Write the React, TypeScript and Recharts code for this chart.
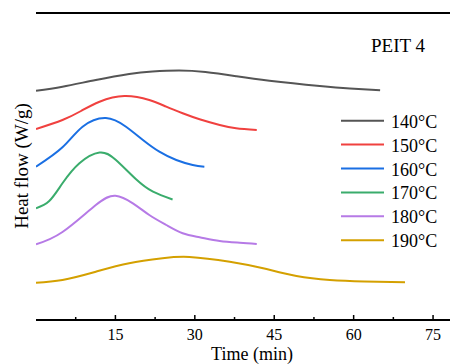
import { LineChart, Line, XAxis, YAxis, ReferenceLine, Customized } from "recharts";

// time (min) and offset heat flow (arbitrary units, curves stacked)
const t140 = [0, 5, 11.3, 17.6, 22, 27, 32, 37.8, 44.1, 53.6, 59.3, 65];
const v140 = [229.3, 233.3, 240, 246, 248.5, 249.5, 248, 243.8, 239.3, 234, 231.5, 229.7];

const t150 = [0, 5, 8.5, 12, 16.7, 21.4, 24.6, 27.7, 30.9, 34.7, 37.8, 41.7];
const v150 = [191, 200, 209, 218.3, 224, 220, 213.3, 206.7, 200.7, 195, 191.7, 190];

const t160 = [0, 5, 8.8, 13.2, 17, 20.2, 23.3, 26.5, 29.6, 31.8];
const v160 = [153.3, 172.7, 193.3, 202, 193.3, 180, 168.3, 160, 155, 153.3];

const t170 = [0, 2.5, 5, 8.2, 12, 15.1, 18.9, 22.1, 25.8];
const v170 = [111.7, 119, 136.7, 156.7, 167.5, 160, 140.7, 128.3, 120.5];

const t180 = [0, 5, 11.3, 15, 18.3, 21.4, 24.6, 27.7, 30.9, 34.7, 38.5, 41.7];
const v180 = [75.7, 88, 115, 124.3, 116.7, 105, 95, 86.7, 82.7, 79, 77.3, 76];

const t190 = [0, 5, 11.3, 17.6, 23.9, 29, 36.6, 42.9, 49.2, 55.5, 62, 69.7];
const v190 = [37.3, 40, 48.3, 56.7, 61.7, 63, 58.3, 51.7, 44, 40, 38.5, 37.7];

const labels = ["140°C", "150°C", "160°C", "170°C", "180°C", "190°C"];
const colors = ["#555555", "#f0413f", "#1a6fe3", "#3aac6c", "#b67ae6", "#d4a000"];
const times = [t140, t150, t160, t170, t180, t190];
const values = [v140, v150, v160, v170, v180, v190];

const xTicks = [7.5, 15, 22.5, 30, 37.5, 45, 52.5, 60, 67.5, 75];

const font = "'Liberation Serif', 'Times New Roman', serif";

const series = labels.map((name, i) => ({
  name,
  color: colors[i],
  data: times[i].map((t, j) => ({ t, v: values[i][j] })),
}));

function TimeTick(props: any) {
  const { x, y, payload } = props;
  const major = payload.value % 15 === 0;
  return (
    <g>
      <line x1={x} y1={y} x2={x} y2={y - (major ? 5 : 3)} stroke="#000" strokeWidth={1.5} />
      {major && (
        <text x={x} y={y + 20} textAnchor="middle" fontFamily={font} fontSize={16} fill="#000">
          {payload.value}
        </text>
      )}
    </g>
  );
}

function Decor() {
  return (
    <g fontFamily={font} fill="#000">
      <text x={21} y={166} transform="rotate(-90, 21, 166)" textAnchor="middle" dominantBaseline="central" fontSize={19}>
        Heat flow (W/g)
      </text>
      <text x={252} y={360} textAnchor="middle" fontSize={18}>
        Time (min)
      </text>
      <text x={371} y={52} fontSize={19}>
        PEIT 4
      </text>
      {series.map((s, i) => {
        const y = 120.7 + i * 23.9;
        return (
          <g key={s.name}>
            <line x1={341} x2={384} y1={y} y2={y} stroke={s.color} strokeWidth={2} />
            <text x={391} y={y + 7} fontSize={18}>
              {s.name}
            </text>
          </g>
        );
      })}
    </g>
  );
}

export default function App() {
  return (
    <div style={{ width: 450, height: 364, background: "#fff" }}>
      <style>{`body{margin:0}`}</style>
      <LineChart width={450} height={364} margin={{ top: 13, right: 0, bottom: 0, left: 36 }}>
        <XAxis
          dataKey="t"
          type="number"
          domain={[0, 78.2]}
          ticks={xTicks}
          interval={0}
          allowDataOverflow
          height={44}
          tickSize={0}
          tickMargin={0}
          tickLine={false}
          axisLine={{ stroke: "#000", strokeWidth: 2 }}
          tick={<TimeTick />}
        />
        <YAxis
          type="number"
          domain={[0, 307]}
          width={0}
          tick={false}
          tickLine={false}
          axisLine={{ stroke: "#000", strokeWidth: 2 }}
        />
        <ReferenceLine y={307} stroke="#000" strokeWidth={2} />
        {series.map((s) => (
          <Line
            key={s.name}
            data={s.data}
            dataKey="v"
            name={s.name}
            type="natural"
            stroke={s.color}
            strokeWidth={2}
            dot={false}
            isAnimationActive={false}
          />
        ))}
        <Customized component={<Decor />} />
      </LineChart>
    </div>
  );
}
